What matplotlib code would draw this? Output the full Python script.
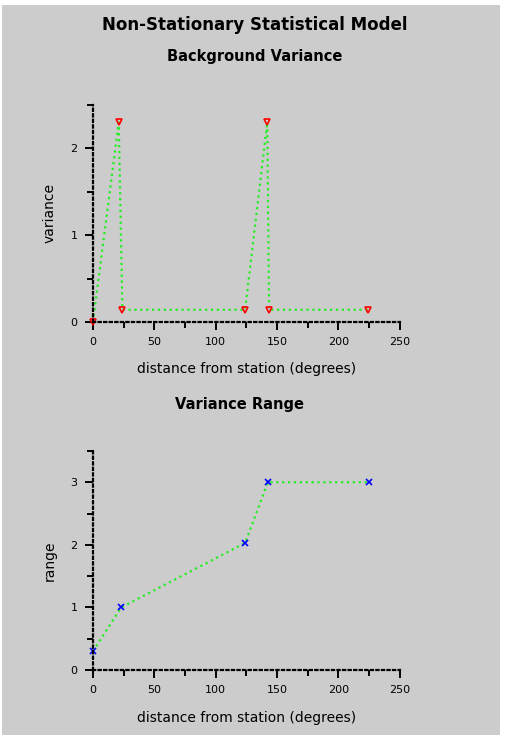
import matplotlib
matplotlib.use("Agg")
import matplotlib.pyplot as plt
from matplotlib.patches import Rectangle
from matplotlib.ticker import MultipleLocator

# background variance vs distance
var_dist = [0, 21, 24, 124, 142, 143.5, 224]
var_vals = [0.0, 2.3, 0.14, 0.14, 2.3, 0.14, 0.14]

# variance range vs distance
rng_dist = [0, 23, 124, 142.5, 225]
rng_vals = [0.3, 1.0, 2.03, 3.0, 3.0]

x_ticks = [0, 50, 100, 150, 200, 250]
top_yticks = [0, 1, 2]
bot_yticks = [0, 1, 2, 3]

grey = "#cccccc"

fig = plt.figure(figsize=(5.08, 7.40), dpi=100)
fig.patch.set_facecolor("white")
fig.patches.append(Rectangle((2 / 508, 5 / 740), 498 / 508, 730 / 740,
                             transform=fig.transFigure, facecolor=grey,
                             edgecolor="none", zorder=-10))


def style_axes(ax, yticks, ylim):
    ax.set_facecolor(grey)
    ax.patch.set_alpha(0)
    for s in ["top", "right"]:
        ax.spines[s].set_visible(False)
    for s in ["left", "bottom"]:
        ax.spines[s].set_linestyle((0, (1, 1.5)))
        ax.spines[s].set_linewidth(1.6)
    ax.set_xlim(0, 250)
    ax.set_ylim(*ylim)
    ax.set_xticks(x_ticks)
    ax.set_yticks(yticks)
    ax.xaxis.set_minor_locator(MultipleLocator(25))
    ax.yaxis.set_minor_locator(MultipleLocator(0.5))
    ax.tick_params(which="both", direction="out", width=1.4, labelsize=8)
    ax.tick_params(which="major", length=6, pad=5)
    ax.tick_params(which="minor", length=4)


ax1 = fig.add_axes([0.183, 0.565, 0.604, 0.293])
style_axes(ax1, top_yticks, (0, 2.5))
ax1.plot(var_dist, var_vals, color="#22ee22", linestyle=":", linewidth=1.6,
         marker="v", markersize=5, markerfacecolor="none",
         markeredgecolor="red", markeredgewidth=1.2, clip_on=False)
ax1.set_xlabel("distance from station (degrees)", fontsize=10, labelpad=11)
ax1.set_ylabel("variance", fontsize=10, labelpad=10)

ax2 = fig.add_axes([0.183, 0.0946, 0.604, 0.296])
style_axes(ax2, bot_yticks, (0, 3.5))
ax2.plot(rng_dist, rng_vals, color="#22ee22", linestyle=":", linewidth=1.6,
         marker="x", markersize=5, markeredgecolor="blue",
         markeredgewidth=1.2, clip_on=False)
ax2.set_xlabel("distance from station (degrees)", fontsize=10, labelpad=11)
ax2.set_ylabel("range", fontsize=10, labelpad=10)

fig.text(0.502, 1 - 25 / 740, "Non-Stationary Statistical Model",
         ha="center", va="center", fontsize=12, fontweight="bold")
fig.text(0.502, 1 - 57 / 740, "Background Variance",
         ha="center", va="center", fontsize=10.5, fontweight="bold")
fig.text(0.472, 1 - 405 / 740, "Variance Range",
         ha="center", va="center", fontsize=10.5, fontweight="bold")

fig.savefig("out.png", dpi=100, facecolor=fig.get_facecolor())
